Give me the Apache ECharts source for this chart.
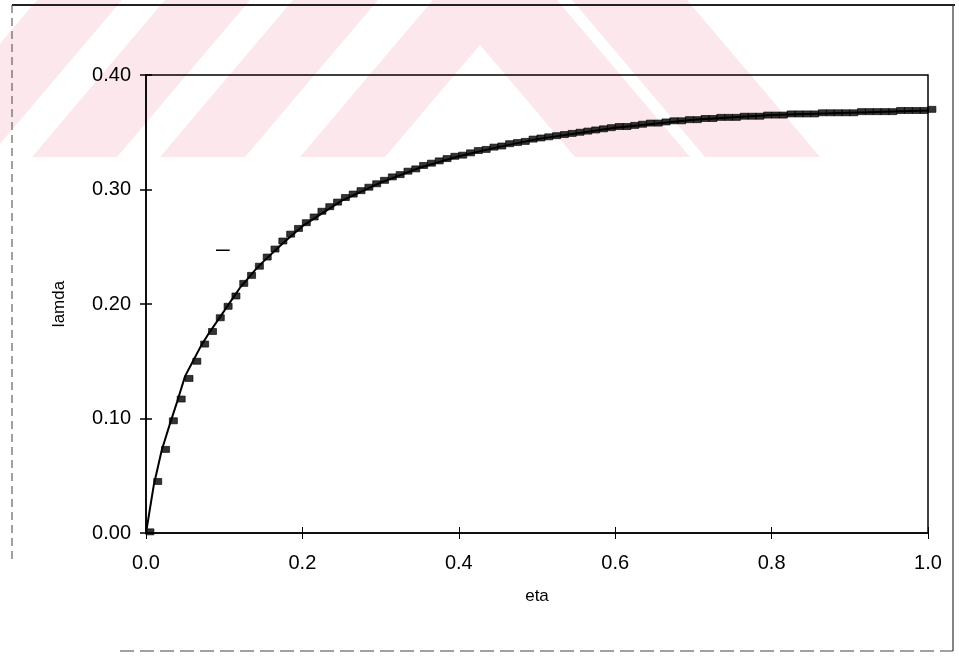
<!DOCTYPE html>
<html>
<head>
<meta charset="utf-8">
<script src="https://cdn.jsdelivr.net/npm/echarts@6/dist/echarts.min.js"></script>
<style>html,body{margin:0;padding:0;background:#fff}#c{width:959px;height:657px}</style>
</head>
<body>
<div id="c"></div>
<script>
// ---- data ----
const xTicks = [0.0, 0.2, 0.4, 0.6, 0.8, 1.0];
const yTicks = [0.00, 0.10, 0.20, 0.30, 0.40];
const xTitle = 'eta';
const yTitle = 'lamda';

// fitted curve (solid line)
const lineEta   = [0, 0.01, 0.02, 0.03, 0.04, 0.05, 0.06, 0.07, 0.08, 0.09, 0.10, 0.11, 0.12, 0.13, 0.14, 0.15, 0.175, 0.2, 0.25, 0.3, 0.35, 0.4, 0.45, 0.5, 0.6, 0.7, 0.8, 0.9, 1.0, 1.01];
const lineLamda = [0, 0.042, 0.072, 0.094, 0.115, 0.137, 0.150, 0.163, 0.174, 0.184, 0.194, 0.204, 0.214, 0.222, 0.230, 0.237, 0.253, 0.268, 0.290, 0.306, 0.319, 0.329, 0.337, 0.344, 0.354, 0.361, 0.365, 0.367, 0.369, 0.370];

// square markers
const markEta = [0.005, 0.015, 0.025, 0.035, 0.045, 0.055, 0.065, 0.075, 0.085, 0.095,
  0.105, 0.115, 0.125, 0.135, 0.145, 0.155, 0.165, 0.175, 0.185, 0.195,
  0.205, 0.215, 0.225, 0.235, 0.245, 0.255, 0.265, 0.275, 0.285, 0.295,
  0.305, 0.315, 0.325, 0.335, 0.345, 0.355, 0.365, 0.375, 0.385, 0.395,
  0.405, 0.415, 0.425, 0.435, 0.445, 0.455, 0.465, 0.475, 0.485, 0.495,
  0.505, 0.515, 0.525, 0.535, 0.545, 0.555, 0.565, 0.575, 0.585, 0.595,
  0.605, 0.615, 0.625, 0.635, 0.645, 0.655, 0.665, 0.675, 0.685, 0.695,
  0.705, 0.715, 0.725, 0.735, 0.745, 0.755, 0.765, 0.775, 0.785, 0.795,
  0.805, 0.815, 0.825, 0.835, 0.845, 0.855, 0.865, 0.875, 0.885, 0.895,
  0.905, 0.915, 0.925, 0.935, 0.945, 0.955, 0.965, 0.975, 0.985, 0.995, 1.005];
const markLamda = [0.001, 0.045, 0.073, 0.098, 0.117, 0.135, 0.150, 0.165, 0.176, 0.188,
  0.198, 0.207, 0.218, 0.225, 0.233, 0.241, 0.248, 0.255, 0.261, 0.266,
  0.271, 0.276, 0.281, 0.285, 0.289, 0.293, 0.296, 0.299, 0.302, 0.305,
  0.308, 0.311, 0.313, 0.316, 0.318, 0.321, 0.323, 0.325, 0.327, 0.329,
  0.330, 0.332, 0.334, 0.335, 0.337, 0.338, 0.340, 0.341, 0.342, 0.344,
  0.345, 0.346, 0.347, 0.348, 0.349, 0.350, 0.351, 0.352, 0.353, 0.354,
  0.355, 0.355, 0.356, 0.357, 0.358, 0.358, 0.359, 0.360, 0.360, 0.361,
  0.361, 0.362, 0.362, 0.363, 0.363, 0.363, 0.364, 0.364, 0.364, 0.365,
  0.365, 0.365, 0.366, 0.366, 0.366, 0.366, 0.367, 0.367, 0.367, 0.367,
  0.367, 0.368, 0.368, 0.368, 0.368, 0.368, 0.369, 0.369, 0.369, 0.369, 0.370];

// stray short dash seen in the plot
const dashEta   = [0.0895, 0.107];
const dashLamda = [0.247, 0.247];

// ---- build ----
const zip = (a, b) => a.map((v, i) => [v, b[i]]);

// background watermark stripes (decoration)
const pink = '#fce8ec';
const bandH = 157, shift = 133, pw = 85;
const wm = [];
[-96, 32, 160, 300].forEach(x0 => {
  wm.push({type: 'polygon', silent: true, z: -10,
    shape: {points: [[x0, bandH], [x0 + pw, bandH], [x0 + pw + shift, 0], [x0 + shift, 0]]},
    style: {fill: pink}});
});
[575, 705].forEach(x0 => {
  wm.push({type: 'polygon', silent: true, z: -10,
    shape: {points: [[x0, bandH], [x0 + pw + 30, bandH], [x0 + pw + 30 - shift, 0], [x0 - shift, 0]]},
    style: {fill: pink}});
});
// scan frame
const frame = [
  {type: 'line', silent: true, z: -5, shape: {x1: 12, y1: 5, x2: 955, y2: 5}, style: {stroke: '#222', lineWidth: 2}},
  {type: 'line', silent: true, z: -5, shape: {x1: 12, y1: 5, x2: 12, y2: 560}, style: {stroke: '#444', lineWidth: 1, lineDash: [8, 5]}},
  {type: 'line', silent: true, z: -5, shape: {x1: 953, y1: 5, x2: 953, y2: 651}, style: {stroke: '#333', lineWidth: 1.2}},
  {type: 'line', silent: true, z: -5, shape: {x1: 120, y1: 651, x2: 953, y2: 651}, style: {stroke: '#444', lineWidth: 1.2, lineDash: [14, 6]}}
];

const chart = echarts.init(document.getElementById('c'), null, {renderer: 'canvas'});
const axisCommon = {
  axisLine: {show: true, lineStyle: {color: '#000', width: 1.5}},
  splitLine: {show: false}
};
const font = 'Liberation Sans, Arial, sans-serif';
chart.setOption({
  animation: false,
  backgroundColor: '#fff',
  graphic: wm.concat(frame),
  grid: {left: 146, right: 31, top: 75, bottom: 124, show: true, borderColor: '#000', borderWidth: 1.5, backgroundColor: 'transparent'},
  xAxis: [{
    type: 'value', min: 0, max: 1, interval: 0.2, ...axisCommon,
    axisTick: {show: true, length: 6, inside: false, lineStyle: {color: '#000', width: 1}},
    axisLabel: {color: '#000', fontFamily: font, fontSize: 20, margin: 20,
      formatter: v => xTicks.find(t => Math.abs(t - v) < 1e-9) !== undefined ? v.toFixed(1) : ''},
    name: xTitle, nameLocation: 'middle', nameGap: 55,
    nameTextStyle: {color: '#000', fontFamily: font, fontSize: 17}
  }, {
    type: 'value', min: 0, max: 1, interval: 0.2, position: 'bottom',
    axisLine: {show: false}, splitLine: {show: false}, axisLabel: {show: false},
    axisTick: {show: true, length: 6, inside: true, lineStyle: {color: '#000', width: 1}}
  }],
  yAxis: [{
    type: 'value', min: 0, max: 0.4, interval: 0.1, ...axisCommon,
    axisTick: {show: true, length: 6, inside: false, lineStyle: {color: '#000', width: 1.5}},
    axisLabel: {color: '#000', fontFamily: font, fontSize: 20, margin: 15,
      formatter: v => yTicks.find(t => Math.abs(t - v) < 1e-9) !== undefined ? v.toFixed(2) : ''},
    name: yTitle, nameLocation: 'middle', nameGap: 78, nameRotate: 90,
    nameTextStyle: {color: '#000', fontFamily: font, fontSize: 17}
  }, {
    type: 'value', min: 0, max: 0.4, interval: 0.1, position: 'left',
    axisLine: {show: false}, splitLine: {show: false}, axisLabel: {show: false},
    axisTick: {show: true, length: 6, inside: true, lineStyle: {color: '#000', width: 1.5}}
  }],
  series: [
    {type: 'line', data: zip(lineEta, lineLamda), showSymbol: false, symbol: 'none', clip: false,
      lineStyle: {color: '#000', width: 2}, z: 3},
    {type: 'scatter', data: zip(markEta, markLamda), symbol: 'rect', symbolSize: [8, 6], clip: false,
      itemStyle: {color: '#000', borderColor: '#000', borderWidth: 0.8}, z: 4},
    {type: 'line', data: zip(dashEta, dashLamda), showSymbol: false, symbol: 'none',
      lineStyle: {color: '#000', width: 1.5}, z: 3}
  ]
});
</script>
</body>
</html>
